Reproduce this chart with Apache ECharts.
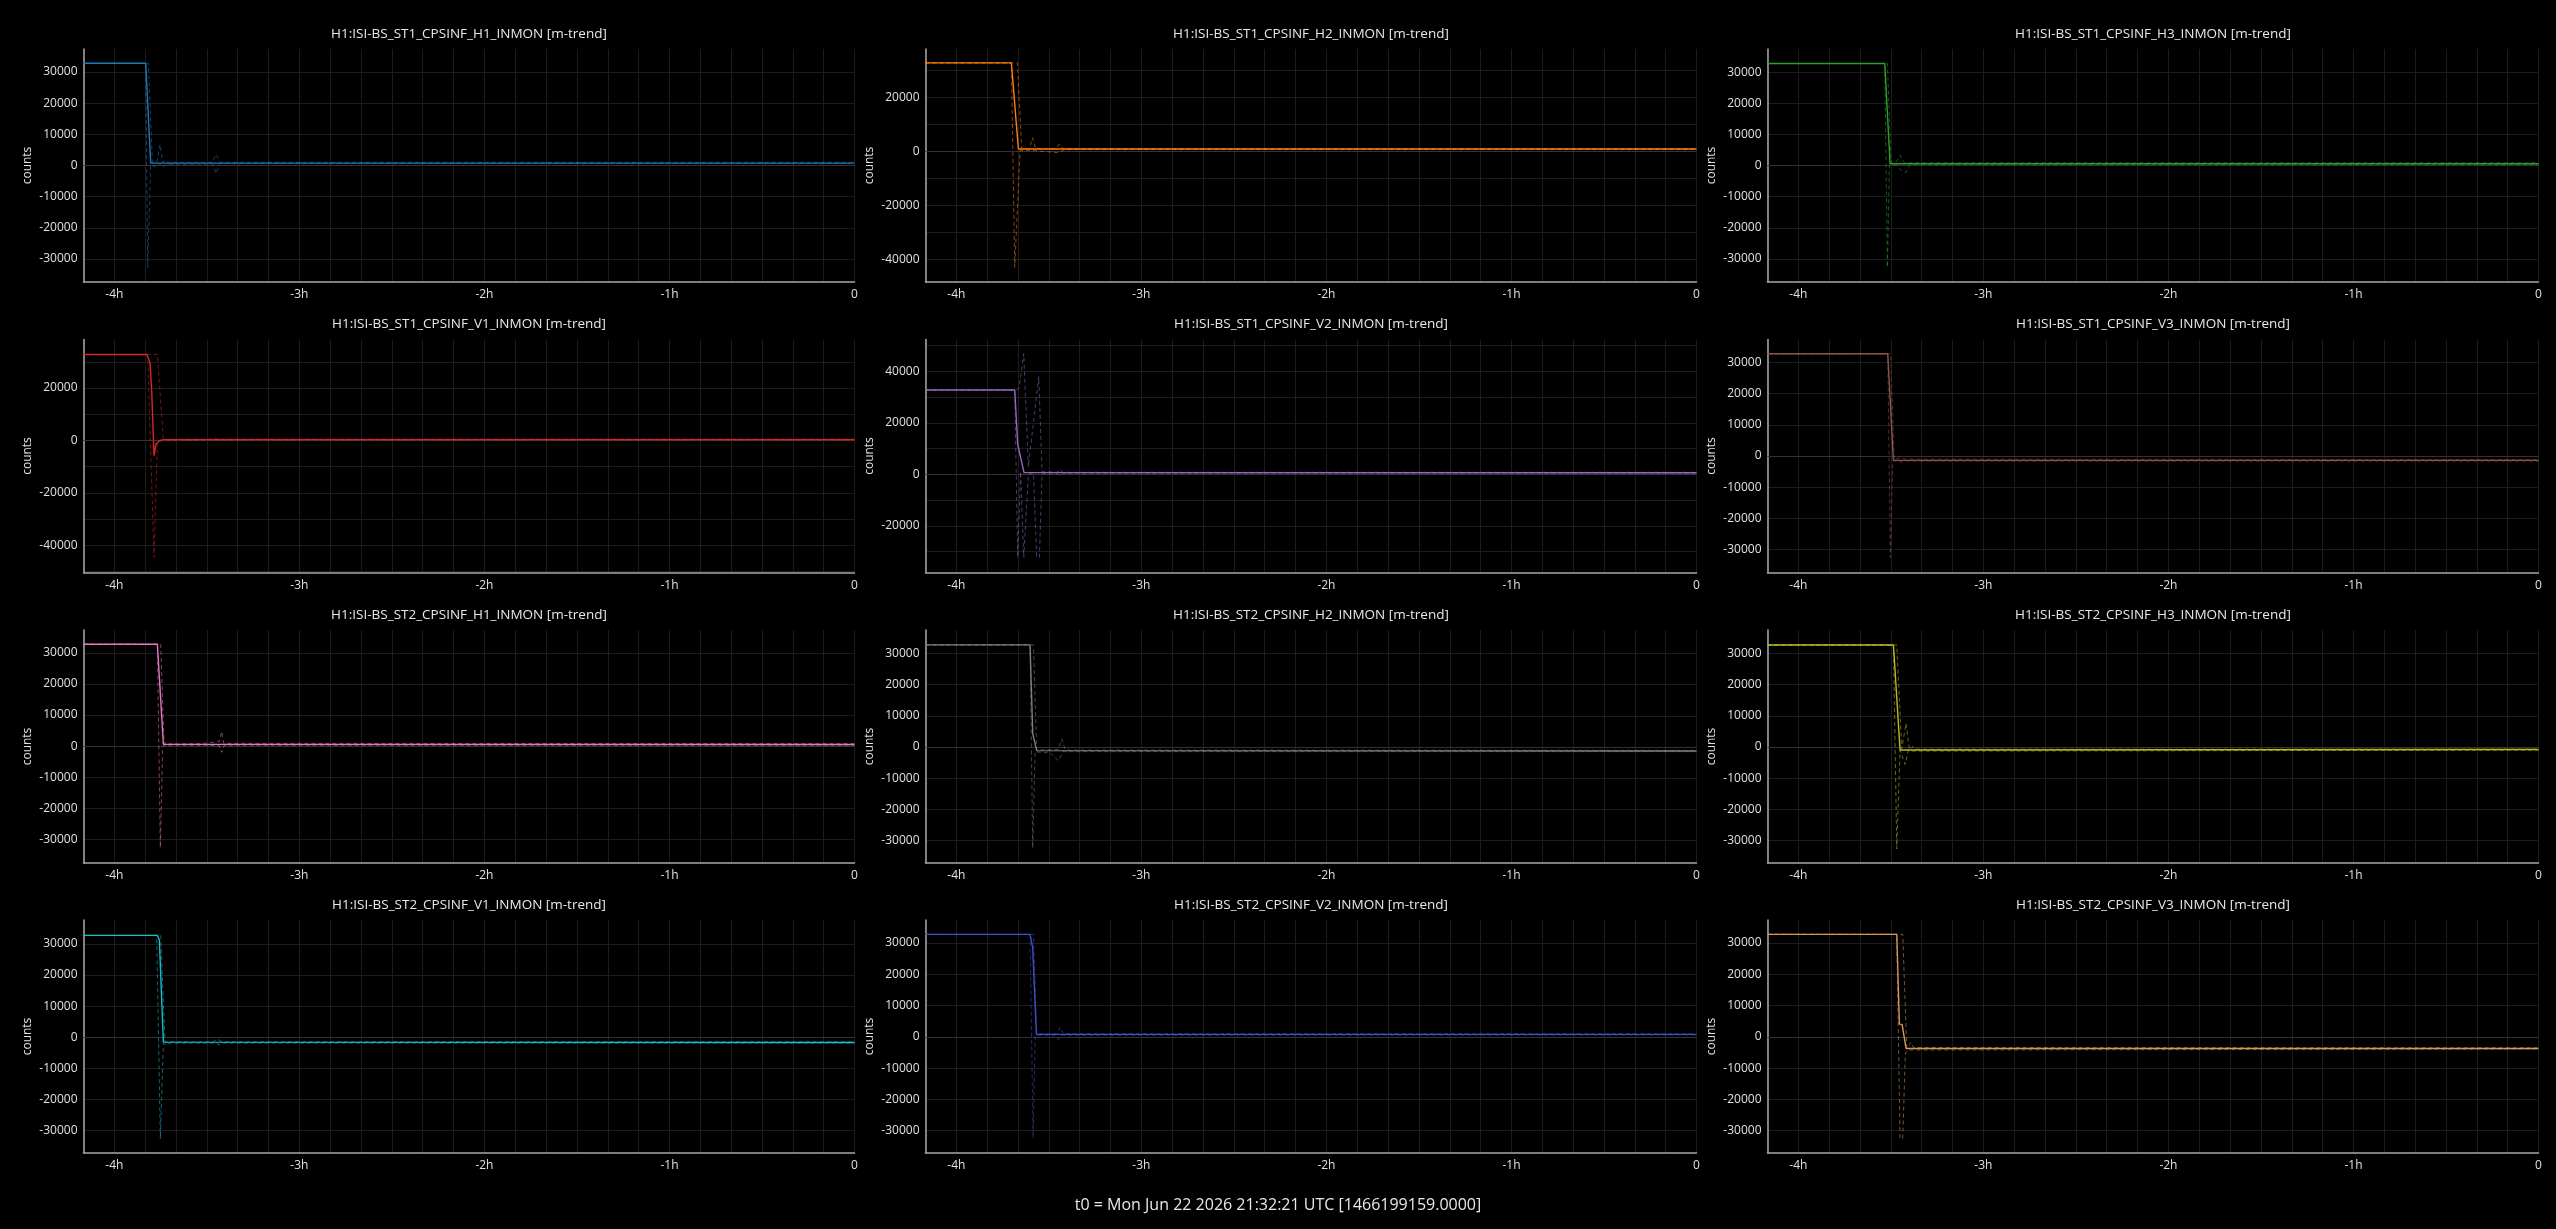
<!DOCTYPE html>
<html>
<head>
<meta charset="utf-8">
<title>ISI BS CPSINF m-trend</title>
<script src="https://cdn.jsdelivr.net/npm/echarts@6/dist/echarts.min.js"></script>
<style>
  html, body { margin: 0; padding: 0; background: #000; }
  #chart { width: 2556px; height: 1229px; }
</style>
</head>
<body>
<div id="chart"></div>
<script>
// channel names, one per panel (row by row)
const channels = [
  "H1:ISI-BS_ST1_CPSINF_H1_INMON", "H1:ISI-BS_ST1_CPSINF_H2_INMON", "H1:ISI-BS_ST1_CPSINF_H3_INMON",
  "H1:ISI-BS_ST1_CPSINF_V1_INMON", "H1:ISI-BS_ST1_CPSINF_V2_INMON", "H1:ISI-BS_ST1_CPSINF_V3_INMON",
  "H1:ISI-BS_ST2_CPSINF_H1_INMON", "H1:ISI-BS_ST2_CPSINF_H2_INMON", "H1:ISI-BS_ST2_CPSINF_H3_INMON",
  "H1:ISI-BS_ST2_CPSINF_V1_INMON", "H1:ISI-BS_ST2_CPSINF_V2_INMON", "H1:ISI-BS_ST2_CPSINF_V3_INMON",
];
const colors = [
  "#1f77b4", "#ff7f0e", "#2ca02c",
  "#d62728", "#9467bd", "#8c564b",
  "#e377c2", "#7f7f7f", "#bcbd22",
  "#17becf", "#3f4fc4", "#d39a58",
];
// y ranges
const yMins = [-37350, -48450, -37400, -50400, -38130, -37300, -37570, -37250, -37220, -37300, -37120, -37120];
const yMaxs = [37350, 37900, 37450, 38500, 52400, 37330, 37340, 37550, 37570, 37730, 37350, 37350];
const yLabelStep = [10000, 20000, 10000, 20000, 20000, 10000, 10000, 10000, 10000, 10000, 10000, 10000];
const xHourTicks = [-14400, -10800, -7200, -3600, 0];
const footer = "t0 = Mon Jun 22 2026 21:32:21 UTC [1466199159.0000]";

// [seconds relative to t0, counts]
const st1H1Mean = [[-15000, 32768], [-13790, 32768], [-13693, 750], [0, 750]];
const st1H1Max = [[-15000, 32768], [-13738, 32768], [-13660, 1000], [-13570, 1200], [-13511, 6750], [-13459, 1000], [-13400, 1800], [-13360, 900], [-12500, 1000], [-12420, 3600], [-12342, 1000], [0, 1000]];
const st1H1Min = [[-15000, 32768], [-13790, 32768], [-13751, -32700], [-13693, 200], [-13576, -600], [-13520, 600], [-13450, -500], [-13380, 400], [-12480, 500], [-12420, -2600], [-12360, 600], [0, 600]];

const st1H2Mean = [[-15000, 32768], [-13329, 32768], [-13193, 850], [0, 850]];
const st1H2Max = [[-15000, 32768], [-13212, 32768], [-13128, 900], [-12980, 1000], [-12914, 5000], [-12860, 900], [-12460, 1000], [-12400, 2600], [-12330, 1000], [0, 1000]];
const st1H2Min = [[-15000, 32768], [-13329, 32768], [-13264, -43000], [-13160, 200], [-12960, 400], [-12440, -500], [-12380, -400], [-12300, 600], [0, 600]];

const st1H3Mean = [[-15000, 32768], [-12719, 32768], [-12615, 600], [0, 600]];
const st1H3Max = [[-15000, 32768], [-12667, 32768], [-12596, 900], [-12500, 1100], [-12420, 3300], [-12340, 900], [0, 900]];
const st1H3Min = [[-15000, 32768], [-12719, 32768], [-12667, -32670], [-12628, 100], [-12500, 200], [-12380, -1800], [-12304, -2200], [-12230, 300], [0, 300]];

const st1V1Mean = [[-15000, 32768], [-13770, 32768], [-13706, 29760], [-13673, 18700], [-13628, -5800], [-13589, -1400], [-13524, -140], [-13446, 280], [0, 300]];
const st1V1Max = [[-15000, 32768], [-13563, 32768], [-13446, 400], [-12500, 500], [-12440, 900], [-12380, 500], [0, 500]];
const st1V1Min = [[-15000, 32768], [-13751, 32768], [-13628, -44600], [-13563, -500], [-13446, 0], [-12700, 0], [-12680, -500], [-12650, 50], [0, 100]];

const st1V2Mean = [[-15000, 32768], [-13264, 32768], [-13206, 11600], [-13083, 700], [0, 600]];
const st1V2Max = [[-15000, 32768], [-13245, 32768], [-13180, 33500], [-13089, 46900], [-12998, 3000], [-12797, 38000], [-12732, 1000], [-12420, 900], [-12381, 2000], [-12340, 800], [0, 800]];
const st1V2Min = [[-15000, 32768], [-13264, 32768], [-13206, -32200], [-13150, 1000], [-13089, -32200], [-12998, 0], [-12900, 500], [-12836, -32200], [-12784, -32200], [-12732, 300], [-12420, 200], [-12381, -400], [-12340, 400], [0, 400]];

const st1V3Mean = [[-15000, 32768], [-12661, 32768], [-12550, -1400], [0, -1400]];
const st1V3Max = [[-15000, 32768], [-12602, 32768], [-12537, -1000], [-12450, -700], [-12400, -400], [-12330, -1000], [0, -1100]];
const st1V3Min = [[-15000, 32768], [-12661, 32768], [-12609, -32440], [-12563, -1500], [-12450, -1700], [-12380, -2000], [-12300, -1600], [0, -1600]];

const st2H1Mean = [[-15000, 32768], [-13563, 32768], [-13446, 600], [0, 550]];
const st2H1Max = [[-15000, 32768], [-13498, 32768], [-13433, 800], [-13390, 1300], [-13350, 700], [-12700, 800], [-12360, 1500], [-12310, 4700], [-12270, 900], [0, 800]];
const st2H1Min = [[-15000, 32768], [-13563, 32768], [-13505, -32670], [-13459, 0], [-13400, 300], [-12700, 300], [-12667, -100], [-12620, 300], [-12360, 200], [-12310, -2000], [-12260, 300], [0, 300]];

const st2H2Mean = [[-15000, 32768], [-12966, 32768], [-12914, 4300], [-12836, -1170], [0, -1300]];
const st2H2Max = [[-15000, 32768], [-12901, 32768], [-12836, -1000], [-12700, -900], [-12420, -800], [-12349, 2570], [-12280, -1000], [0, -1100]];
const st2H2Min = [[-15000, 32768], [-12966, 32768], [-12914, -32440], [-12868, -1500], [-12674, -1900], [-12600, -1500], [-12414, -4430], [-12330, -1500], [0, -1500]];

const st2H3Mean = [[-15000, 32768], [-12550, 32768], [-12421, -930], [0, -800]];
const st2H3Max = [[-15000, 32768], [-12485, 32768], [-12388, -500], [-12304, 7600], [-12239, -800], [-12170, 200], [-12120, -700], [0, -700]];
const st2H3Min = [[-15000, 32768], [-12550, 32768], [-12485, -32670], [-12421, -1000], [-12323, -5600], [-12258, -1000], [-12180, -1300], [0, -1000]];

const st2V1Mean = [[-15000, 32768], [-13563, 32768], [-13524, 31300], [-13446, -1600], [0, -1700]];
const st2V1Max = [[-15000, 32768], [-13498, 32768], [-13414, -1500], [-12480, -1500], [-12400, -600], [-12300, -1500], [0, -1500]];
const st2V1Min = [[-15000, 32768], [-13576, 32768], [-13505, -32800], [-13446, -2000], [-13394, -2500], [-13340, -1900], [-12420, -1900], [-12343, -2600], [-12270, -1900], [0, -1900]];

const st2V2Mean = [[-15000, 32768], [-12966, 32768], [-12914, 28400], [-12842, 810], [0, 800]];
const st2V2Max = [[-15000, 32768], [-12901, 32768], [-12836, 1000], [-12440, 1000], [-12381, 3100], [-12320, 1000], [0, 1000]];
const st2V2Min = [[-15000, 32768], [-12966, 32768], [-12907, -32250], [-12868, 500], [-12480, 500], [-12414, -900], [-12350, 500], [0, 600]];

const st2V3Mean = [[-15000, 32768], [-12485, 32768], [-12434, 4060], [-12382, 4000], [-12304, -3700], [0, -3700]];
const st2V3Max = [[-15000, 32768], [-12369, 32768], [-12291, -3500], [-12240, -2500], [-12206, -1700], [-12160, -3400], [0, -3500]];
const st2V3Min = [[-15000, 32768], [-12485, 32768], [-12421, -32480], [-12369, -32480], [-12317, -5000], [-12250, -4200], [0, -3900]];

const means = [st1H1Mean, st1H2Mean, st1H3Mean, st1V1Mean, st1V2Mean, st1V3Mean, st2H1Mean, st2H2Mean, st2H3Mean, st2V1Mean, st2V2Mean, st2V3Mean];
const maxes = [st1H1Max, st1H2Max, st1H3Max, st1V1Max, st1V2Max, st1V3Max, st2H1Max, st2H2Max, st2H3Max, st2V1Max, st2V2Max, st2V3Max];
const mins = [st1H1Min, st1H2Min, st1H3Min, st1V1Min, st1V2Min, st1V3Min, st2H1Min, st2H2Min, st2H3Min, st2V1Min, st2V2Min, st2V3Min];

const FONT = "Open Sans";
const colLeft = [83.5, 925.5, 1767.5];
const rowTop = [49, 339.5, 630, 920];
const plotW = 771;
const plotH = 233;

// tick values inside [lo, hi] that are multiples of step
function ticksIn(lo, hi, step) {
  const out = [];
  for (let v = Math.ceil(lo / step) * step; v <= hi; v += step) out.push(v);
  return out;
}

const grids = [], xAxes = [], yAxes = [], series = [], graphics = [];

channels.forEach((name, i) => {
  const left = colLeft[i % 3];
  const top = rowTop[Math.floor(i / 3)];
  grids.push({ left, top, width: plotW, height: plotH });

  graphics.push({
    type: "text",
    x: left + plotW / 2,
    y: top - 15,
    style: {
      text: name + " [m-trend]",
      fill: "#e8e8e8",
      fontSize: 13.5,
      fontFamily: FONT,
      align: "center",
      verticalAlign: "middle",
    },
  });

  xAxes.push({
    type: "value",
    gridIndex: i,
    min: -15000,
    max: 0,
    interval: 600,
    axisLine: { onZero: false, lineStyle: { color: "#a8a8a8", width: 1.5 } },
    axisTick: { show: false },
    axisLabel: {
      color: "#e0e0e0",
      fontSize: 12,
      fontFamily: FONT,
      margin: 7,
      formatter: (v) => (xHourTicks.includes(v) ? (v === 0 ? "0" : v / 3600 + "h") : ""),
    },
    splitLine: { show: true, lineStyle: { color: "#1c1c1c", width: 1 } },
  });

  yAxes.push({
    type: "value",
    gridIndex: i,
    min: yMins[i],
    max: yMaxs[i],
    name: "counts",
    nameLocation: "middle",
    nameGap: 50,
    nameTextStyle: { color: "#e0e0e0", fontSize: 12, fontFamily: FONT },
    axisLine: { show: true, onZero: false, lineStyle: { color: "#a8a8a8", width: 1.5 } },
    axisTick: { show: false, customValues: ticksIn(yMins[i], yMaxs[i], 10000) },
    axisLabel: {
      color: "#e0e0e0",
      fontSize: 12,
      fontFamily: FONT,
      margin: 6,
      customValues: ticksIn(yMins[i], yMaxs[i], yLabelStep[i]),
      formatter: (v) => String(v),
    },
    splitLine: { show: true, lineStyle: { color: "#1c1c1c", width: 1 } },
  });

  const dashed = (data) => ({
    type: "line",
    xAxisIndex: i,
    yAxisIndex: i,
    data,
    symbol: "none",
    silent: true,
    lineStyle: { color: colors[i], width: 1, type: [4, 3], opacity: 0.55 },
    z: 2,
  });
  series.push(dashed(maxes[i]));
  series.push(dashed(mins[i]));
  series.push({
    type: "line",
    xAxisIndex: i,
    yAxisIndex: i,
    data: means[i],
    symbol: "none",
    silent: true,
    lineStyle: { color: colors[i], width: 1.4 },
    z: 3,
    markLine: {
      silent: true,
      symbol: "none",
      label: { show: false },
      lineStyle: { color: "#333333", type: "solid", width: 1 },
      data: [{ yAxis: 0 }],
      z: 1,
    },
  });
});

graphics.push({
  type: "text",
  x: 1278,
  y: 1205,
  style: {
    text: footer,
    fill: "#e8e8e8",
    fontSize: 16,
    fontFamily: FONT,
    align: "center",
    verticalAlign: "middle",
  },
});

const chart = echarts.init(document.getElementById("chart"), null, { renderer: "canvas" });
chart.setOption({
  backgroundColor: "#000",
  animation: false,
  textStyle: { fontFamily: FONT },
  grid: grids,
  xAxis: xAxes,
  yAxis: yAxes,
  series,
  graphic: graphics,
});
</script>
</body>
</html>
